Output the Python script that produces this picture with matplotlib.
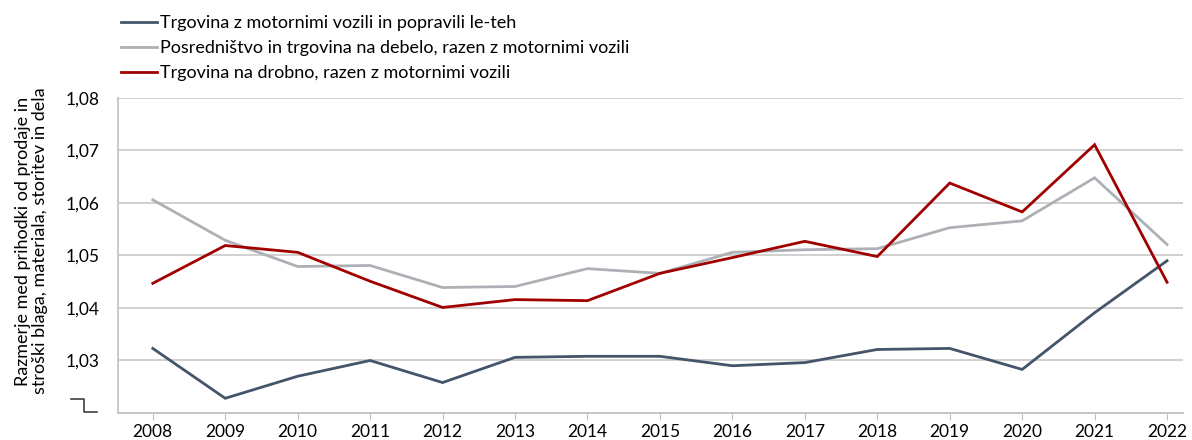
import matplotlib
matplotlib.use('Agg')
import matplotlib.pyplot as plt
import numpy as np
from matplotlib.ticker import FuncFormatter

plt.rcParams['font.family'] = ['Lato', 'DejaVu Sans']

# data
years = list(range(2008, 2023))
motor = [1.0323, 1.0228, 1.0270, 1.0300, 1.0258, 1.0306, 1.0308, 1.0308,
         1.0290, 1.0296, 1.0321, 1.0323, 1.0283, 1.0391, 1.0490]
debelo = [1.0606, 1.0529, 1.0479, 1.0481, 1.0439, 1.0441, 1.0475, 1.0466,
          1.0506, 1.0511, 1.0513, 1.0553, 1.0566, 1.0648, 1.0521]
drobno = [1.0447, 1.0519, 1.0506, 1.0451, 1.0401, 1.0416, 1.0414, 1.0466,
          1.0496, 1.0527, 1.0498, 1.0638, 1.0583, 1.0711, 1.0449]
labels = ['Trgovina z motornimi vozili in popravili le-teh',
          'Posredništvo in trgovina na debelo, razen z motornimi vozili',
          'Trgovina na drobno, razen z motornimi vozili']
colors = ['#44546A', '#ADB1B6', '#A00000']

fig = plt.figure(figsize=(11.92, 4.4), dpi=100)
ax = fig.add_axes([118/1192, 1 - 413/440, (1183 - 118)/1192, (413 - 98)/440])

for vals, lab, c in zip([motor, debelo, drobno], labels, colors):
    ax.plot(years, vals, color=c, lw=2.0, label=lab, solid_joinstyle='miter')

ax.set_ylim(1.02, 1.08)
ax.set_xlim(2007.52, 2022.22)
ax.set_yticks(np.arange(1.02, 1.0801, 0.01))
ax.yaxis.set_major_formatter(FuncFormatter(
    lambda v, p: '' if v < 1.025 else f'{v:.2f}'.replace('.', ',')))
ax.set_xticks(years)
ax.grid(axis='y', color='#C8C8C8', lw=1.2)
ax.set_axisbelow(True)
for s in ['top', 'right']:
    ax.spines[s].set_visible(False)
for s in ['left', 'bottom']:
    ax.spines[s].set_color('#C0C0C0')
    ax.spines[s].set_linewidth(1.2)
ax.tick_params(axis='y', length=0, labelsize=12.5, pad=13)
ax.tick_params(axis='x', length=5, color='#C0C0C0', labelsize=12.5, pad=3)

ax.set_ylabel('Razmerje med prihodki od prodaje in\nstroški blaga, materiala, storitev in dela',
              fontsize=13, linespacing=1.05)
ax.yaxis.set_label_coords(-0.066, 0.546)

# broken axis marker
ax.plot([-0.044, -0.032, -0.032, -0.0197], [0.044, 0.044, 0.003, 0.003],
        transform=ax.transAxes, color='#404040', lw=1.2, clip_on=False)

fig.legend(loc='upper left', bbox_to_anchor=(108/1192, 0.995), frameon=False,
           fontsize=13, handlelength=2.0, handletextpad=0.2, labelspacing=0.5,
           borderaxespad=0.3)

fig.savefig('out.png', dpi=100)
